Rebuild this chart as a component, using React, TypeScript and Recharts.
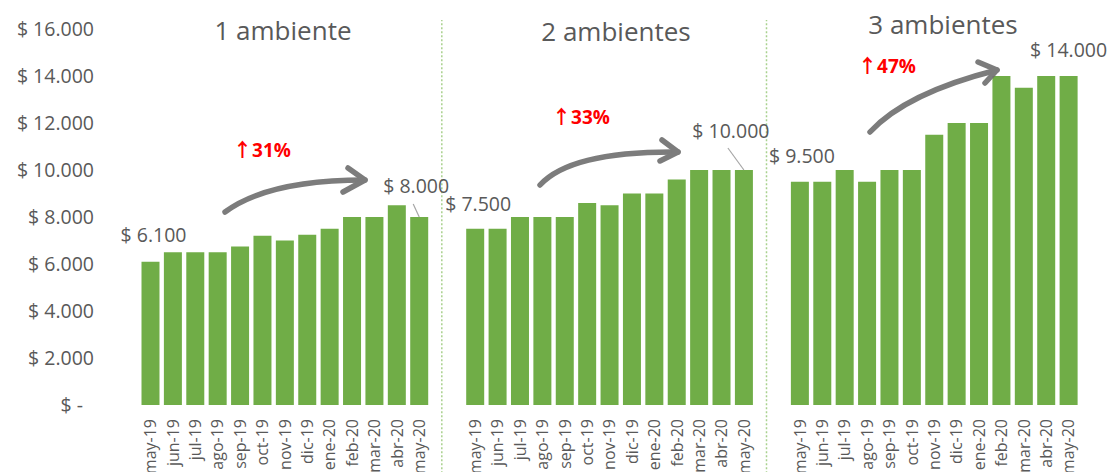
import React from "react";
import {
  Bar,
  ComposedChart,
  LabelList,
  ReferenceLine,
  XAxis,
  YAxis,
} from "recharts";

const months = [
  "may-19", "jun-19", "jul-19", "ago-19", "sep-19", "oct-19", "nov-19",
  "dic-19", "ene-20", "feb-20", "mar-20", "abr-20", "may-20",
];
const groupNames = ["1 ambiente", "2 ambientes", "3 ambientes"];
const unAmbiente = [6100, 6500, 6500, 6500, 6750, 7200, 7000, 7250, 7500, 8000, 8000, 8500, 8000];
const dosAmbientes = [7500, 7500, 8000, 8000, 8000, 8600, 8500, 9000, 9000, 9600, 10000, 10000, 10000];
const tresAmbientes = [9500, 9500, 10000, 9500, 10000, 10000, 11500, 12000, 12000, 14000, 13500, 14000, 14000];
const growth = ["31%", "33%", "47%"];
const yTicks = [0, 2000, 4000, 6000, 8000, 10000, 12000, 14000, 16000];

// 13 months + a gap of 1.5 slots between groups
const GROUP_STEP = 14.5;
const FONT = "'Open Sans', 'DejaVu Sans', sans-serif";
const GREY = "#595959";
const GREEN = "#70ad47";

const rows = [unAmbiente, dosAmbientes, tresAmbientes].flatMap((vals, g) =>
  vals.map((v, i) => ({ pos: g * GROUP_STEP + i, month: months[i], value: v }))
);

const fmt = (v: number) => (v === 0 ? "$ -" : `$ ${(v / 1000).toFixed(3)}`);

// value labels shown only at start/end of each group (offsets from bar top)
const shownLabels: Record<number, { dx: number; dy: number; leader?: [number, number] }> = {
  0: { dx: 3, dy: -26 },
  12: { dx: -3, dy: -31, leader: [-6, -13] },
  13: { dx: 3, dy: -25 },
  25: { dx: -13, dy: -39, leader: [-16, -22] },
  26: { dx: 2, dy: -26 },
  38: { dx: 0, dy: -26 },
};

const ValueLabel = (props: any) => {
  const { x, y, width, value, index } = props;
  const cfg = shownLabels[index];
  if (!cfg) return null;
  const cx = x + width / 2;
  return (
    <g>
      {cfg.leader && (
        <line x1={cx + cfg.leader[0]} y1={y + cfg.leader[1]} x2={cx} y2={y} stroke="#a6a6a6" strokeWidth={1.2} />
      )}
      <text x={cx + cfg.dx} y={y + cfg.dy} dy="0.35em" textAnchor="middle" fill={GREY} fontSize={19.5} fontFamily={FONT}>
        {fmt(value)}
      </text>
    </g>
  );
};

const MonthTick = (props: any) => {
  const { x, payload } = props;
  const m = months[Math.round(payload.value % GROUP_STEP)];
  return (
    <text transform={`translate(${x},419) rotate(-90)`} textAnchor="end" dy="0.35em" fill={GREY} fontSize={16} fontFamily={FONT}>
      {m}
    </text>
  );
};

const DollarTick = (props: any) => {
  const { y, payload } = props;
  const zero = payload.value === 0;
  return (
    <text x={zero ? 83 : 94} y={y} dy="0.35em" textAnchor="end" fill={GREY} fontSize={19.5} fontFamily={FONT}>
      {fmt(payload.value)}
    </text>
  );
};

const titles = [
  { x: 283, y: 40 },
  { x: 616, y: 41 },
  { x: 943, y: 34 },
];
const growthPos = [
  { x: 233, y: 157 },
  { x: 552, y: 124 },
  { x: 858, y: 73 },
];
const arrows = [
  { d: "M225,212 Q268,180 365,180", head: "M348,168 L365,180 L343,192" },
  { d: "M540,185 Q571,151 678,152", head: "M662,140 L678,152 L660,161" },
  { d: "M870,132 Q906,93 997,70", head: "M978,62 L997,70 L985,83" },
];

export default function App() {
  const dividers = [0, 1].map((g) => g * GROUP_STEP + 13);
  return (
    <div style={{ position: "relative", width: 1113, height: 472, background: "#fff" }}>
      <style>{"body{margin:0}"}</style>
      <ComposedChart
        width={1113}
        height={472}
        data={rows}
        margin={{ top: 29, right: 33, bottom: 0, left: 0 }}
      >
        <XAxis
          dataKey="pos"
          type="number"
          domain={[-0.5, 2 * GROUP_STEP + 12.5]}
          ticks={rows.map((r) => r.pos)}
          interval={0}
          tick={<MonthTick />}
          axisLine={false}
          tickLine={false}
          height={67}
        />
        <YAxis
          domain={[0, 16000]}
          ticks={yTicks}
          tick={<DollarTick />}
          axisLine={false}
          tickLine={false}
          width={139.5}
        />
        {dividers.map((d) => (
          <ReferenceLine
            key={d}
            segment={[{ x: d, y: -2900 }, { x: d, y: 16380 }]}
            stroke="#a9d18e"
            strokeWidth={1.5}
            strokeDasharray="2 2"
            ifOverflow="visible"
          />
        ))}
        <Bar dataKey="value" fill={GREEN} barSize={18} isAnimationActive={false}>
          <LabelList dataKey="value" content={<ValueLabel />} />
        </Bar>
      </ComposedChart>
      <svg width={1113} height={472} style={{ position: "absolute", left: 0, top: 0, pointerEvents: "none" }}>
        {groupNames.map((n, i) => (
          <text key={n} x={titles[i].x} y={titles[i].y} textAnchor="middle" fill={GREY} fontSize={26} fontFamily={FONT}>
            {n}
          </text>
        ))}
        {growth.map((t, i) => (
          <text key={t} x={growthPos[i].x} y={growthPos[i].y} fill="#ff0000" fontSize={19} fontWeight="bold" fontFamily={FONT}>
            <tspan fontFamily="'Noto Sans CJK SC', sans-serif">↑</tspan>
            <tspan>{t}</tspan>
          </text>
        ))}
        {arrows.map((a, i) => (
          <g key={i} stroke="#6e6e6e" strokeWidth={5.5} fill="none" strokeLinecap="round" strokeLinejoin="round" opacity={0.9}>
            <path d={a.d} />
            <path d={a.head} />
          </g>
        ))}
      </svg>
    </div>
  );
}
